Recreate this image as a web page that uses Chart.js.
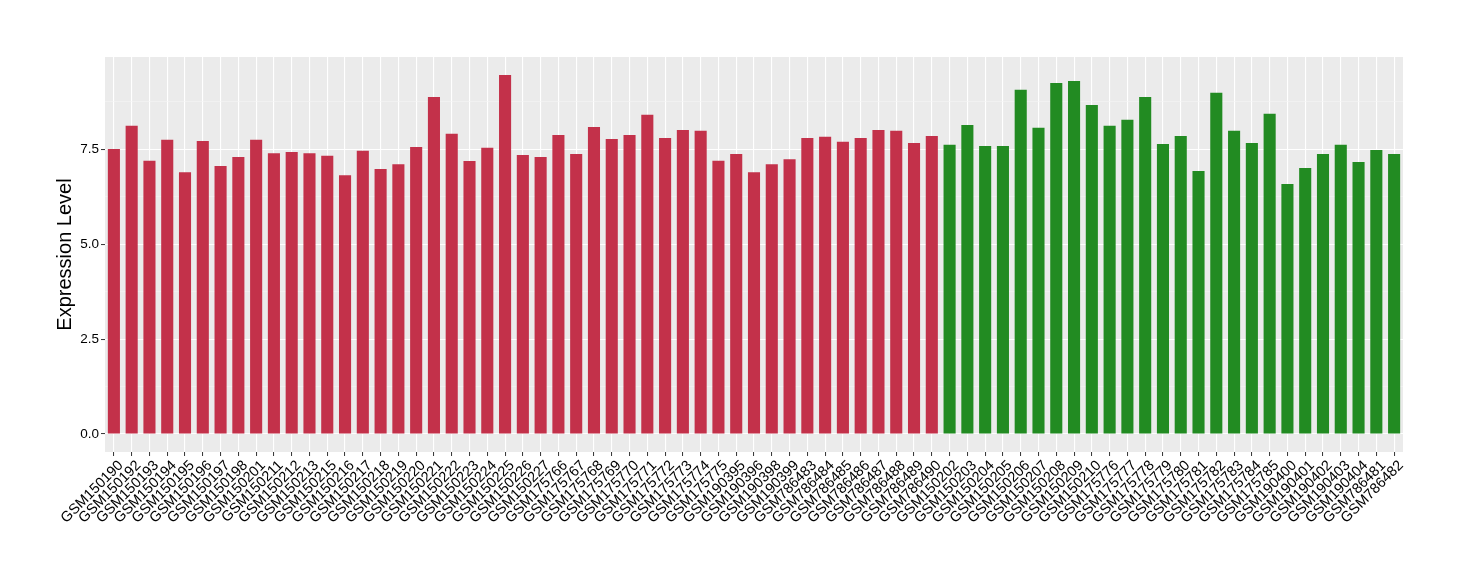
<!DOCTYPE html>
<html>
<head>
<meta charset="utf-8">
<script src="https://cdn.jsdelivr.net/npm/chart.js@4/dist/chart.umd.min.js"></script>
<style>
  html, body { margin: 0; padding: 0; background: #ffffff; }
  #wrap { width: 1460px; height: 580px; position: relative; }
</style>
</head>
<body>
<div id="wrap"><canvas id="c" width="1460" height="580"></canvas></div>
<script>
const groupASamples = ["GSM150190","GSM150192","GSM150193","GSM150194","GSM150195","GSM150196","GSM150197","GSM150198","GSM150201","GSM150211","GSM150212","GSM150213","GSM150215","GSM150216","GSM150217","GSM150218","GSM150219","GSM150220","GSM150221","GSM150222","GSM150223","GSM150224","GSM150225","GSM150226","GSM150227","GSM175766","GSM175767","GSM175768","GSM175769","GSM175770","GSM175771","GSM175772","GSM175773","GSM175774","GSM175775","GSM190395","GSM190396","GSM190398","GSM190399","GSM786483","GSM786484","GSM786485","GSM786486","GSM786487","GSM786488","GSM786489","GSM786490"];
const groupAValues = [7.51,8.12,7.20,7.75,6.90,7.72,7.06,7.30,7.75,7.40,7.43,7.40,7.33,6.82,7.46,6.98,7.11,7.56,8.88,7.91,7.19,7.54,9.46,7.35,7.30,7.88,7.38,8.09,7.77,7.88,8.41,7.80,8.01,7.99,7.20,7.38,6.90,7.11,7.24,7.80,7.83,7.70,7.80,8.01,7.99,7.67,7.85];
const groupBSamples = ["GSM150202","GSM150203","GSM150204","GSM150205","GSM150206","GSM150207","GSM150208","GSM150209","GSM150210","GSM175776","GSM175777","GSM175778","GSM175779","GSM175780","GSM175781","GSM175782","GSM175783","GSM175784","GSM175785","GSM190400","GSM190401","GSM190402","GSM190403","GSM190404","GSM786481","GSM786482"];
const groupBValues = [7.62,8.14,7.59,7.59,9.07,8.07,9.25,9.30,8.67,8.12,8.28,8.88,7.64,7.85,6.93,8.99,7.99,7.67,8.44,6.59,7.01,7.38,7.62,7.17,7.48,7.38];
const yTickValues = [0, 1.25, 2.5, 3.75, 5, 6.25, 7.5, 8.75];
const yTickLabels = ["0.0", "", "2.5", "", "5.0", "", "7.5", ""];

const colorA = "#C3314A";
const colorB = "#228B22";

const labels = groupASamples.concat(groupBSamples);
const values = groupAValues.concat(groupBValues);
const colors = groupASamples.map(() => colorA).concat(groupBSamples.map(() => colorB));

const maxV = Math.max(...values);
const yMin = -0.05 * maxV;
const yMax = 1.05 * maxV;

const panelBg = {
  id: 'panelBg',
  beforeDraw(chart) {
    const {ctx, chartArea: a} = chart;
    ctx.save();
    ctx.fillStyle = '#EBEBEB';
    ctx.fillRect(a.left, a.top, a.right - a.left, a.bottom - a.top);
    ctx.restore();
  }
};

new Chart(document.getElementById('c'), {
  type: 'bar',
  data: {
    labels: labels,
    datasets: [{
      data: values,
      backgroundColor: colors,
      borderWidth: 0,
      categoryPercentage: 1.0,
      barPercentage: 0.68
    }]
  },
  options: {
    responsive: false,
    animation: false,
    devicePixelRatio: 1,
    layout: { padding: { left: 50, right: 57, top: 57, bottom: 0 } },
    plugins: { legend: { display: false }, tooltip: { enabled: false } },
    scales: {
      x: {
        offset: true,
        grid: {
          offset: false,
          color: '#FFFFFF',
          lineWidth: 1.1,
          drawTicks: true,
          tickLength: 4,
          tickColor: '#333333',
          tickWidth: 1
        },
        border: { display: false },
        ticks: {
          autoSkip: false,
          maxRotation: 45,
          minRotation: 45,
          padding: 1,
          labelOffset: 7,
          color: '#000000',
          font: { family: "'Liberation Sans', Arial, sans-serif", size: 14.5 }
        },
        afterFit(scale) { scale.height = 128; }
      },
      y: {
        min: yMin,
        max: yMax,
        afterBuildTicks(scale) {
          scale.ticks = yTickValues.map(v => ({ value: v }));
        },
        grid: {
          color: (c) => (c.index % 2 === 0 ? '#FFFFFF' : '#F5F5F5'),
          lineWidth: (c) => (c.index % 2 === 0 ? 1.1 : 0.6),
          drawTicks: true,
          tickLength: 4,
          tickColor: (c) => (c.index % 2 === 0 ? '#333333' : 'rgba(0,0,0,0)'),
          tickWidth: 1
        },
        border: { display: false },
        ticks: {
          padding: 2,
          color: '#000000',
          font: { family: "'Liberation Sans', Arial, sans-serif", size: 13.5 },
          callback: (v, i) => yTickLabels[i]
        },
        title: {
          display: true,
          text: 'Expression Level',
          color: '#000000',
          padding: { top: 3, bottom: 0 },
          font: { family: "'Liberation Sans', Arial, sans-serif", size: 20 }
        },
        afterFit(scale) { scale.width = 55; }
      }
    }
  },
  plugins: [panelBg]
});
</script>
</body>
</html>
